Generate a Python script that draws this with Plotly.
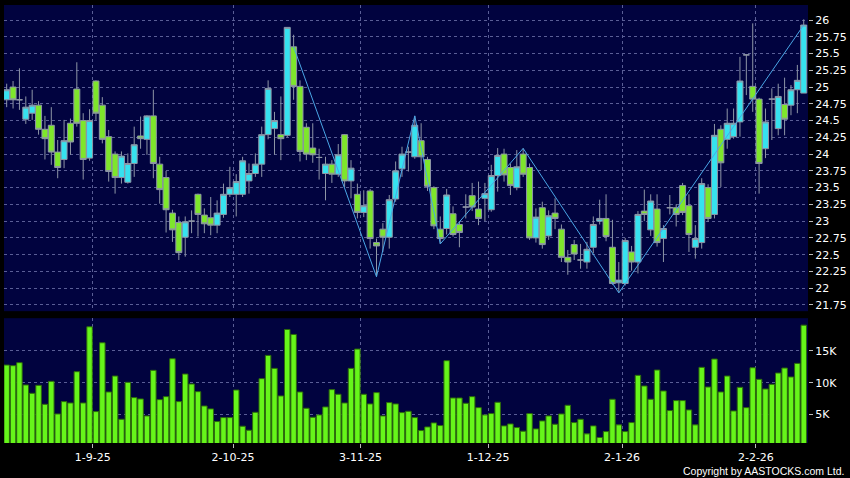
import pandas as pd
import plotly.graph_objects as go
from plotly.subplots import make_subplots

# ---------------- data ----------------
HOLIDAYS = ["2025-10-01", "2025-10-07", "2025-10-29", "2025-12-25", "2025-12-26", "2026-01-01"]
DATES = [d for d in pd.bdate_range("2025-08-12", "2026-02-11") if d.strftime("%Y-%m-%d") not in HOLIDAYS]

OPEN = [24.81, 25.00, 24.81, 24.52, 24.61, 24.73, 24.37, 24.43, 24.03, 23.92,
        24.46, 24.97, 24.50, 23.94, 25.09, 24.73, 24.26, 24.00, 23.65, 23.58,
        23.86, 24.27, 24.22, 24.57, 23.85, 23.65, 23.12, 22.98, 22.76, 23.00,
        23.40, 23.09, 23.05, 22.94, 23.10, 23.40, 23.40, 23.40, 23.60, 23.71,
        23.85, 24.29, 24.38, 24.29, 24.28, 25.60, 25.01, 24.40, 24.09, 23.95,
        23.71, 23.85, 23.70, 24.29, 23.60, 23.40, 23.13, 23.45, 22.68, 22.88,
        22.76, 23.33, 23.78, 24.03, 23.96, 24.20, 23.92, 23.50, 22.88, 22.89,
        23.11, 22.95, 23.21, 23.38, 23.18, 23.34, 23.17, 23.68, 24.00, 23.80,
        23.50, 24.00, 23.80, 22.75, 23.20, 22.78, 23.12, 22.88, 22.46, 22.65,
        22.42, 22.39, 22.61, 23.00, 23.04, 22.61, 22.08, 22.07, 22.54, 22.39,
        23.15, 22.87, 23.18, 22.74, 23.20, 23.20, 23.53, 23.23, 22.61, 22.68,
        23.50, 23.10, 24.37, 24.22, 24.26, 24.48, 25.48, 25.01, 24.82, 24.08,
        24.82, 24.38, 24.74, 24.73, 24.96, 24.91]
HIGH = [25.05, 25.09, 25.28, 24.86, 24.96, 24.79, 24.57, 24.70, 24.21, 24.51,
        24.53, 25.37, 24.61, 24.67, 25.10, 24.85, 24.36, 24.04, 24.04, 24.01,
        24.41, 24.56, 24.58, 24.96, 23.96, 23.75, 23.17, 23.07, 23.07, 23.16,
        23.41, 23.19, 23.36, 23.31, 23.56, 23.81, 23.70, 23.96, 23.86, 24.01,
        24.41, 25.10, 24.63, 24.86, 25.89, 25.78, 25.10, 24.46, 24.46, 24.08,
        23.96, 23.91, 24.15, 24.30, 23.91, 23.56, 23.46, 23.48, 22.74, 22.97,
        23.39, 23.89, 24.11, 24.11, 24.57, 24.46, 23.96, 23.52, 23.07, 23.48,
        23.22, 23.00, 23.40, 23.57, 23.59, 23.57, 23.84, 24.09, 24.08, 23.86,
        24.06, 24.085, 23.86, 23.19, 23.29, 23.16, 23.34, 22.95, 22.57, 22.72,
        22.66, 22.69, 23.07, 23.32, 23.40, 23.02, 22.39, 22.75, 22.63, 23.15,
        23.47, 23.40, 23.40, 22.94, 23.39, 23.25, 23.57, 23.40, 22.94, 23.64,
        23.55, 24.45, 24.43, 24.68, 24.68, 25.45, 25.48, 25.95, 24.84, 24.68,
        24.98, 25.05, 25.14, 25.03, 25.33, 26.01]
LOW = [24.70, 24.68, 24.66, 24.45, 24.51, 24.29, 23.92, 23.84, 23.64, 23.79,
       23.99, 24.41, 23.62, 23.90, 24.51, 24.16, 23.59, 23.41, 23.56, 23.56,
       23.66, 24.08, 23.99, 23.64, 23.26, 22.83, 22.69, 22.42, 22.47, 22.82,
       22.77, 22.82, 22.79, 22.82, 23.05, 23.36, 23.07, 23.36, 23.41, 23.66,
       23.66, 24.22, 23.99, 23.91, 24.25, 24.81, 23.89, 23.91, 23.87, 23.62,
       23.31, 23.57, 23.66, 23.51, 23.34, 23.04, 23.06, 22.59, 22.17, 22.54,
       22.59, 23.29, 23.66, 23.74, 23.93, 23.76, 23.45, 22.88, 22.66, 22.80,
       22.77, 22.61, 23.04, 23.15, 22.94, 23.00, 23.14, 23.44, 23.59, 23.39,
       23.46, 23.66, 22.72, 22.68, 22.59, 22.72, 22.88, 22.39, 22.20, 22.42,
       22.29, 22.29, 22.52, 22.95, 22.70, 22.05, 21.93, 22.04, 22.26, 22.22,
       23.00, 22.78, 22.62, 22.39, 23.10, 22.92, 23.09, 22.54, 22.44, 22.59,
       22.99, 23.04, 23.51, 24.08, 24.23, 24.26, 24.88, 24.63, 23.41, 23.94,
       24.21, 24.28, 24.28, 24.58, 24.61, 24.91]
CLOSE = [24.96, 24.81, 24.81, 24.70, 24.73, 24.37, 24.23, 24.03, 23.80, 24.20,
         24.18, 24.46, 23.92, 24.50, 24.61, 24.22, 23.74, 23.65, 23.97, 23.86,
         24.14, 24.23, 24.57, 23.86, 23.47, 23.17, 22.87, 22.53, 22.99, 23.00,
         23.10, 22.96, 22.94, 23.12, 23.40, 23.50, 23.59, 23.90, 23.71, 23.85,
         24.29, 24.98, 24.50, 24.23, 25.89, 25.01, 24.04, 24.00, 23.99, 23.95,
         23.85, 23.70, 23.99, 23.60, 23.79, 23.13, 23.23, 22.74, 22.63, 22.76,
         23.32, 23.75, 24.00, 24.03, 24.43, 23.96, 23.52, 22.93, 22.74, 23.39,
         22.80, 22.83, 23.21, 23.21, 23.04, 23.41, 23.68, 23.98, 23.69, 23.53,
         23.81, 23.70, 22.75, 23.06, 22.65, 23.08, 23.04, 22.46, 22.39, 22.51,
         22.42, 22.58, 22.95, 23.04, 22.77, 22.07, 22.12, 22.71, 22.39, 23.10,
         23.10, 23.30, 22.68, 22.89, 23.20, 23.10, 23.13, 22.80, 22.74, 23.56,
         23.04, 24.28, 23.87, 24.46, 24.46, 25.09, 25.48, 24.82, 23.86, 24.48,
         24.82, 24.86, 24.52, 24.96, 25.10, 25.925]
VOLUME_K = [12.76, 12.66, 13.13, 9.64, 8.33, 9.58, 6.61, 10.21, 5.10, 7.03,
            6.82, 11.72, 6.82, 18.75, 5.47, 16.25, 8.54, 11.04, 4.27, 10.05,
            7.66, 7.45, 4.79, 11.93, 7.34, 7.81, 13.75, 7.03, 11.35, 9.79,
            8.59, 6.35, 5.89, 3.91, 4.53, 4.53, 8.85, 3.18, 2.55, 5.36,
            10.63, 14.27, 12.24, 7.92, 18.33, 17.55, 8.54, 5.99, 4.58, 4.95,
            6.20, 8.91, 8.18, 6.82, 12.24, 15.26, 8.18, 6.67, 8.44, 4.79,
            6.88, 6.67, 5.31, 5.52, 4.53, 2.50, 3.07, 3.70, 3.28, 13.44,
            7.60, 7.60, 6.77, 7.81, 6.09, 4.95, 5.16, 6.93, 3.23, 3.54,
            2.97, 2.40, 5.16, 2.76, 4.01, 4.79, 3.49, 5.10, 6.46, 3.75,
            4.27, 1.98, 3.23, 1.41, 2.34, 7.40, 3.39, 2.34, 3.75, 11.15,
            9.48, 7.40, 11.98, 8.70, 5.63, 7.19, 7.19, 5.73, 3.39, 12.40,
            9.32, 13.70, 8.54, 11.04, 5.57, 9.27, 6.09, 12.34, 10.52, 9.01,
            9.74, 11.51, 12.29, 10.89, 13.02, 19.01]

ZIGZAG_DATES = ["2025-10-16", "2025-11-05", "2025-11-13", "2025-11-19", "2025-12-08", "2025-12-31", "2026-02-11"]
ZIGZAG_PRICE = [25.60, 22.17, 24.57, 22.66, 24.085, 21.93, 25.925]

PRICE_TICKS = [21.75, 22, 22.25, 22.5, 22.75, 23, 23.25, 23.5, 23.75, 24,
               24.25, 24.5, 24.75, 25, 25.25, 25.5, 25.75, 26]
VOL_TICKS = [5, 10, 15]
VOL_TICK_TEXT = ["5K", "10K", "15K"]

# ---------------- derived ----------------
DATE_STR = [d.strftime("%Y-%m-%d") for d in DATES]
X = list(range(len(DATES)))
zz_x = [DATE_STR.index(d) for d in ZIGZAG_DATES]

month_first = []
for i, d in enumerate(DATES):
    if i > 0 and d.month != DATES[i - 1].month:
        month_first.append(i)
tick_pos = [i - 0.5 for i in month_first]
tick_txt = [f"{DATES[i].day}-{DATES[i].month}-{DATES[i]:%y}" for i in month_first]

GRID = "#5a5e96"
FONT = dict(family="DejaVu Sans", size=11, color="#ffffff")

fig = make_subplots(rows=2, cols=1, shared_xaxes=True)

fig.add_trace(go.Candlestick(
    x=X, open=OPEN, high=HIGH, low=LOW, close=CLOSE,
    increasing=dict(fillcolor="#36e2ef", line=dict(color="#8e96a6", width=1)),
    decreasing=dict(fillcolor="#7ee62b", line=dict(color="#8e96a6", width=1)),
    whiskerwidth=0, showlegend=False, hoverinfo="skip"), row=1, col=1)

fig.add_trace(go.Scatter(
    x=zz_x, y=ZIGZAG_PRICE, mode="lines",
    line=dict(color="#4aa6e6", width=1), showlegend=False, hoverinfo="skip"), row=1, col=1)

fig.add_trace(go.Bar(
    x=X, y=VOLUME_K, width=0.86,
    marker=dict(color="#66f51a", line=dict(color="#2d6a0c", width=1)),
    showlegend=False, hoverinfo="skip"), row=2, col=1)

xr = [-0.42, len(X) - 1 + 0.67]
common_x = dict(range=xr, tickmode="array", tickvals=tick_pos, showgrid=True,
                gridcolor=GRID, griddash="3px,3px", gridwidth=1, zeroline=False,
                showline=False)
fig.update_xaxes(**common_x)
fig.update_layout(
    xaxis=dict(showticklabels=False, ticks="", rangeslider=dict(visible=False)),
    xaxis2=dict(ticktext=tick_txt, ticks="outside", ticklen=4, tickcolor="#bbbbbb",
                tickfont=FONT, rangeslider=dict(visible=False)),
    yaxis=dict(domain=[0.301, 1], range=[21.657, 26.224], side="right",
               tickmode="array", tickvals=PRICE_TICKS,
               ticktext=[f"{v:g}" for v in PRICE_TICKS],
               ticks="outside", ticklen=4, tickcolor="#bbbbbb", tickfont=FONT,
               showgrid=True, gridcolor=GRID, griddash="3px,3px", zeroline=False,
               showline=False),
    yaxis2=dict(domain=[0, 0.285], range=[0.55, 20.1], side="right",
                tickmode="array", tickvals=VOL_TICKS, ticktext=VOL_TICK_TEXT,
                ticks="outside", ticklen=4, tickcolor="#bbbbbb", tickfont=FONT,
                showgrid=True, gridcolor=GRID, griddash="3px,3px", zeroline=False,
                showline=False),
    width=850, height=478,
    margin=dict(l=4, r=42, t=5, b=35, autoexpand=False),
    paper_bgcolor="#000000", plot_bgcolor="#01033f",
    boxgap=0.06, boxgroupgap=0, bargap=0.1,
    showlegend=False,
    annotations=[dict(text="Copyright by AASTOCKS.com Ltd.", xref="paper", yref="paper",
                      x=1.0473, y=-0.064, xanchor="right", yanchor="middle",
                      showarrow=False,
                      font=dict(family="Liberation Sans", size=10.5, color="#ffffff"))],
)

fig.write_html("out.html", config={"displayModeBar": False},
               post_script="document.body.style.margin='0px';document.body.style.padding='0px';document.body.style.background='#000000';")
